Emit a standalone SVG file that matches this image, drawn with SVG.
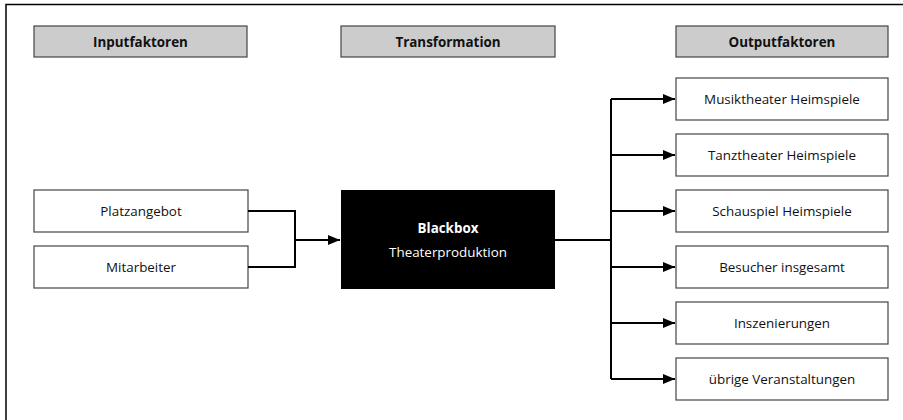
<svg xmlns="http://www.w3.org/2000/svg" width="903" height="420" viewBox="0 0 903 420">
<style>
.hdr{fill:#cccccc;stroke:#444;stroke-width:1.2}
.box{fill:#fff;stroke:#444;stroke-width:1.2}
.t{font-family:"Open Sans","Liberation Sans",sans-serif;font-size:13.4px;fill:#111;text-anchor:middle;dominant-baseline:central}
.b{font-weight:bold}
.w{fill:#fff}
.c{fill:none;stroke:#000;stroke-width:2}
</style>
<defs>
<marker id="ah" viewBox="0 0 12 10" refX="12" refY="5" markerWidth="12" markerHeight="10" markerUnits="userSpaceOnUse" orient="auto">
<path d="M0,0 L12,5 L0,10 z" fill="#000"/>
</marker>
</defs>
<path d="M6,420 L6,4.5 L903,4.5" fill="none" stroke="#000" stroke-width="1.5"/>
<g id="h-input"><rect class="hdr" x="34" y="26" width="213" height="31"/><text class="t b" x="140.5" y="41.5">Inputfaktoren</text></g>
<g id="h-trans"><rect class="hdr" x="341" y="26" width="214" height="31"/><text class="t b" x="448" y="41.5">Transformation</text></g>
<g id="h-output"><rect class="hdr" x="676" y="26" width="212" height="31"/><text class="t b" x="782" y="41.5">Outputfaktoren</text></g>
<g id="n-platz"><rect class="box" x="34" y="190" width="214" height="42"/><text class="t" x="141" y="211">Platzangebot</text></g>
<g id="n-mitarb"><rect class="box" x="34" y="246" width="214" height="42"/><text class="t" x="141" y="267">Mitarbeiter</text></g>
<g id="n-blackbox"><rect x="341" y="190" width="214" height="99" fill="#000"/><text class="t b w" x="448" y="228">Blackbox</text><text class="t w" x="448" y="252">Theaterproduktion</text></g>
<g id="o1"><rect class="box" x="676" y="78" width="212" height="42"/><text class="t" x="782" y="99">Musiktheater Heimspiele</text></g>
<g id="o2"><rect class="box" x="676" y="134" width="212" height="42"/><text class="t" x="782" y="155">Tanztheater Heimspiele</text></g>
<g id="o3"><rect class="box" x="676" y="190" width="212" height="42"/><text class="t" x="782" y="211">Schauspiel Heimspiele</text></g>
<g id="o4"><rect class="box" x="676" y="246" width="212" height="42"/><text class="t" x="782" y="267">Besucher insgesamt</text></g>
<g id="o5"><rect class="box" x="676" y="302" width="212" height="42"/><text class="t" x="782" y="323">Inszenierungen</text></g>
<g id="o6"><rect class="box" x="676" y="358" width="212" height="42"/><text class="t" x="782" y="379">übrige Veranstaltungen</text></g>
<g id="connectors">
<path class="c" d="M248,211 H295 V267 H248"/>
<path class="c" d="M295,240 H340" marker-end="url(#ah)"/>
<path class="c" d="M555,240 H611"/>
<path class="c" d="M611,99 V379"/>
<path class="c" d="M611,99 H675" marker-end="url(#ah)"/>
<path class="c" d="M611,155 H675" marker-end="url(#ah)"/>
<path class="c" d="M611,211 H675" marker-end="url(#ah)"/>
<path class="c" d="M611,267 H675" marker-end="url(#ah)"/>
<path class="c" d="M611,323 H675" marker-end="url(#ah)"/>
<path class="c" d="M611,379 H675" marker-end="url(#ah)"/>
</g>
</svg>
